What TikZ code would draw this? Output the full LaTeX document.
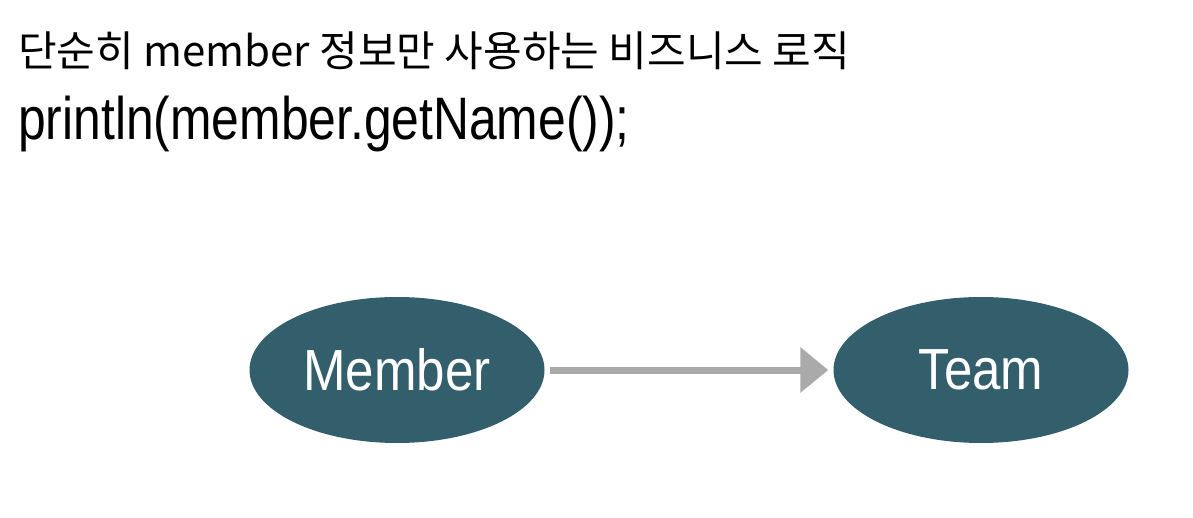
\documentclass[tikz,border=0pt]{standalone}
\usepackage{fontspec}
\setmainfont{Liberation Sans}
\newfontfamily\narrowfont[FakeStretch=0.83]{Liberation Sans}
\newfontfamily\nodefont[FakeStretch=0.88]{Liberation Sans}
\newfontfamily\krfont{Noto Sans CJK KR}
\usetikzlibrary{shapes.geometric,arrows.meta}
\definecolor{entity}{HTML}{335E6B}
\definecolor{arrowgray}{HTML}{AAAAAA}
\tikzset{
  entitynode/.style={ellipse, fill=entity, draw=none, minimum width=295pt, minimum height=146pt, inner sep=0pt, text=white, font=\nodefont\fontsize{58}{66}\selectfont},
  linkarrow/.style={draw=arrowgray, line width=7pt, -{Triangle[length=28pt,width=44pt]}, shorten <=5pt, shorten >=5pt},
  titletext/.style={anchor=base west, inner sep=0pt}
}
\begin{document}
\begin{tikzpicture}[x=1pt,y=-1pt]
\useasboundingbox (0,0) rectangle (1193,518);
\node[titletext, font=\krfont\fontsize{42}{50}\selectfont] (t1) at (18,67) {단순히 member 정보만 사용하는 비즈니스 로직};
\node[titletext, font=\narrowfont\fontsize{60}{70}\selectfont] (t2) at (18,140) {println(member.getName());};
\node[entitynode] (member) at (397,370) {Member};
\node[entitynode] (team) at (981,370) {Team};
\draw[linkarrow] (member) -- (team);
\end{tikzpicture}
\end{document}
